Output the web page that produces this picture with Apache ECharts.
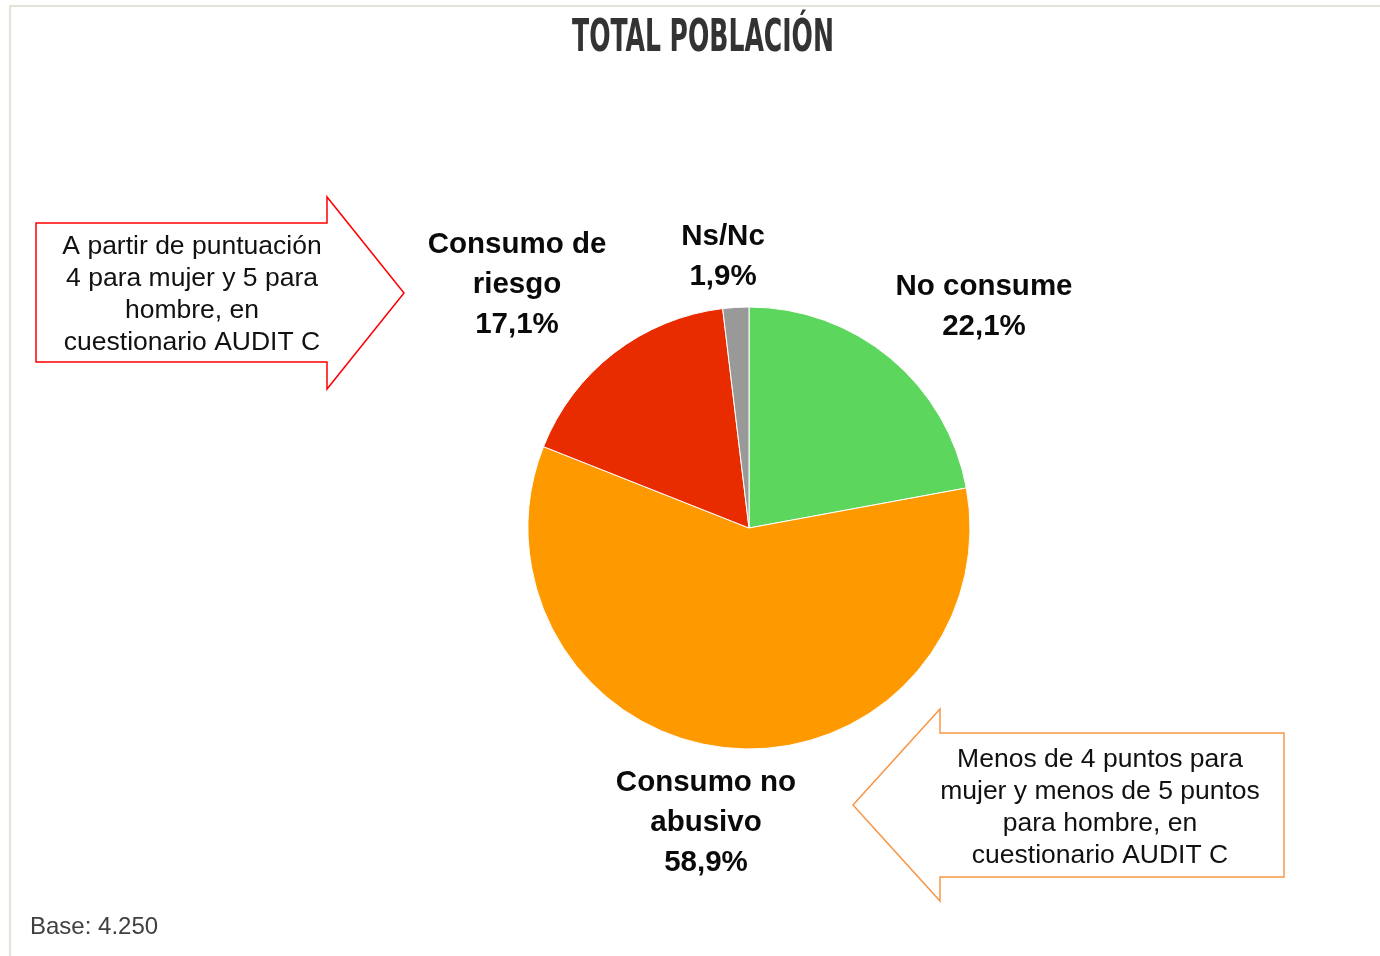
<!DOCTYPE html>
<html>
<head>
<meta charset="utf-8">
<title>Total población</title>
<script src="https://cdn.jsdelivr.net/npm/echarts@6/dist/echarts.min.js"></script>
<style>
  html, body { margin: 0; padding: 0; background: #ffffff; }
  #chart { width: 1380px; height: 956px; }
</style>
</head>
<body>
<div id="chart"></div>
<script>
// data
const categories = ["No consume", "Consumo no\nabusivo", "Consumo de\nriesgo", "Ns/Nc"];
const values = [22.1, 58.9, 17.1, 1.9];
const colors = ["#5CD65C", "#FF9900", "#E82C00", "#999999"];

// where each slice label sits (center of the text block)
const labelPos = [
  [984, 307],
  [706, 823],
  [517, 285],
  [723, 257]
];

const chart = echarts.init(document.getElementById("chart"));

function fmt(v) {
  return v.toFixed(1).replace(".", ",") + "%";
}

const font = "'Liberation Sans', Arial, sans-serif";

chart.setOption({
  backgroundColor: "#ffffff",
  animation: false,
  graphic: [
    // light frame (top + left)
    {
      type: "polyline",
      shape: { points: [[10, 956], [10, 6], [1380, 6]] },
      style: { stroke: "#E5E3D8", lineWidth: 2, fill: null },
      silent: true
    },
    {
      type: "text",
      x: 703,
      y: 39,
      scaleX: 0.93,
      scaleY: 1.5,
      style: {
        text: "TOTAL POBLACIÓN",
        fill: "#333333",
        fontFamily: "'DejaVu Sans Condensed', 'DejaVu Sans', sans-serif",
        fontWeight: "bold",
        fontSize: 30,
        textAlign: "center",
        textVerticalAlign: "middle"
      }
    },
    // red callout arrow
    {
      type: "polygon",
      shape: {
        points: [[36, 223], [327, 223], [327, 197], [404, 293], [327, 389], [327, 362], [36, 362]]
      },
      style: { fill: "#ffffff", stroke: "#FF0000", lineWidth: 1.5 }
    },
    {
      type: "text",
      x: 192,
      y: 295,
      style: {
        text: "A partir de puntuación\n4 para mujer y 5 para\nhombre, en\ncuestionario AUDIT C",
        fill: "#111111",
        fontFamily: font,
        fontSize: 26.5,
        lineHeight: 32,
        textAlign: "center",
        textVerticalAlign: "middle"
      }
    },
    // orange callout arrow
    {
      type: "polygon",
      shape: {
        points: [[1284, 733], [940, 733], [940, 709], [853, 805], [940, 901], [940, 877], [1284, 877]]
      },
      style: { fill: "#ffffff", stroke: "#F79646", lineWidth: 1.5 }
    },
    {
      type: "text",
      x: 1100,
      y: 808,
      style: {
        text: "Menos de 4 puntos para\nmujer y menos de 5 puntos\npara hombre, en\ncuestionario AUDIT C",
        fill: "#111111",
        fontFamily: font,
        fontSize: 26.5,
        lineHeight: 32,
        textAlign: "center",
        textVerticalAlign: "middle"
      }
    },
    {
      type: "text",
      x: 30,
      y: 927,
      style: {
        text: "Base: 4.250",
        fill: "#404040",
        fontFamily: font,
        fontSize: 24,
        textAlign: "left",
        textVerticalAlign: "middle"
      }
    }
  ],
  series: [
    {
      type: "pie",
      center: [749, 528],
      radius: 221,
      startAngle: 90,
      clockwise: true,
      avoidLabelOverlap: false,
      itemStyle: { borderColor: "#ffffff", borderWidth: 1 },
      label: {
        show: true,
        position: "outside",
        formatter: p => p.name + "\n" + fmt(p.value),
        fontFamily: font,
        fontWeight: "bold",
        fontSize: 29.5,
        lineHeight: 40,
        color: "#0a0a0a",
        align: "center"
      },
      labelLine: { show: false },
      labelLayout: params => ({
        x: labelPos[params.dataIndex][0],
        y: labelPos[params.dataIndex][1],
        align: "center",
        verticalAlign: "middle"
      }),
      emphasis: { disabled: true },
      data: categories.map((name, i) => ({
        name: name,
        value: values[i],
        itemStyle: { color: colors[i] }
      }))
    }
  ]
});
</script>
</body>
</html>
